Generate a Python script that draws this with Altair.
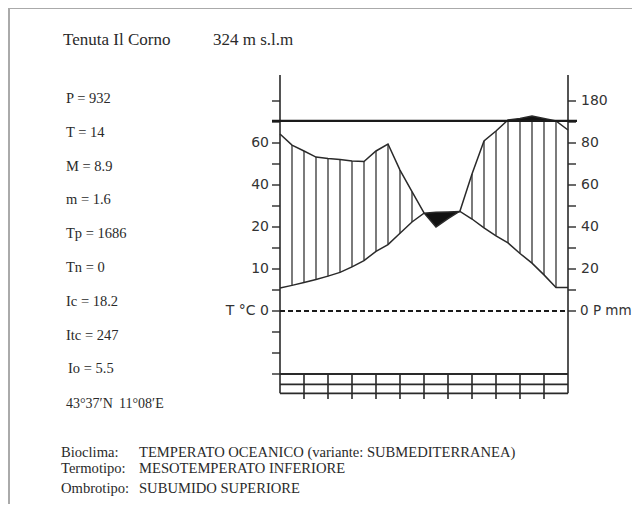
import altair as alt
import pandas as pd

# ---- data ----
# positions along the year, in months (0 = start of January, 12 = end of December)
month_pos = [0, 0.5, 1, 1.5, 2, 2.5, 3, 3.5, 4, 4.5, 5, 5.5, 6, 6.5, 7, 7.5,
             8, 8.5, 9, 9.5, 10, 10.5, 11, 11.5, 12]
# precipitation curve, on the diagram's P scale (mm)
precip = [84.3, 79.0, 76.2, 73.3, 72.6, 72.1, 71.4, 71.2, 76.2, 79.5, 67.1, 56.8,
          46.7, 40.0, 44.0, 47.6, 65.2, 81.0, 85.7, 91.0, 91.7, 92.9, 91.7, 90.5, 86.2]
# temperature curve (deg C), plotted as 2*T on the P scale
temp = [5.5, 6.1, 6.8, 7.5, 8.3, 9.2, 10.5, 12.0, 14.2, 15.8, 18.5, 21.2,
        23.3, 23.5, 23.6, 23.7, 21.9, 19.8, 17.9, 16.2, 13.7, 11.4, 8.6, 5.6, 5.6]

cut_level = 90.5  # horizontal reference line

left_tick_vals = [-30, -20, -10, 0, 10, 20, 30, 40, 50, 60, 70, 80, 90, 100]
right_tick_vals = [0, 10, 20, 30, 40, 50, 60, 70, 80, 90, 100]
left_label_vals = [0, 20, 40, 60, 80]
left_label_txt = ["T °C  0", "10", "20", "40", "60"]
right_label_vals = [20, 40, 60, 80, 100]
right_label_txt = ["20", "40", "60", "80", "180"]
zero_right_txt = "0 P mm"
month_dividers = [1, 2, 3, 4, 5, 6, 7, 8, 9, 10, 11]
box_lines = [-30, -34.9, -39.2]

title_txt = "Tenuta Il Corno"
alt_txt = "324 m s.l.m"
params = ["P = 932", "T = 14", "M = 8.9", "m = 1.6", "Tp = 1686", "Tn = 0",
          "Ic = 18.2", "Itc = 247", "Io = 5.5"]
lat_txt = "43°37′N"
lon_txt = "11°08′E"
bottom_keys = ["Bioclima:", "Termotipo:", "Ombrotipo:"]
bottom_vals = ["TEMPERATO OCEANICO (variante: SUBMEDITERRANEA)",
               "MESOTEMPERATO INFERIORE", "SUBUMIDO SUPERIORE"]

# ---- tables ----
df = pd.DataFrame({"x": month_pos, "p": precip, "t": temp})
df["t2"] = df["t"] * 2

hatch = df[(df["x"] > 0) & (df["x"] < 12) & (df["p"] > df["t2"])].copy()
hatch["y"] = hatch["t2"]
hatch["y2"] = hatch["p"].clip(upper=cut_level)

dry = df[(df["x"] >= 6) & (df["x"] <= 7.5)]
wet_top = df[df["p"] >= cut_level].copy()
wet_top["c"] = cut_level

xs = alt.Scale(domain=[0, 12], range=[272, 560], zero=False, nice=False)
ys = alt.Scale(domain=[0, 100], range=[303, 93], zero=False, nice=False)

INK = "#2a2a2a"
SERIF = "Liberation Serif"
SANS = "DejaVu Sans"


def X(f="x"):
    return alt.X(f"{f}:Q", scale=xs, axis=None)


def Y(f="y"):
    return alt.Y(f"{f}:Q", scale=ys, axis=None)


def rules(frame, width=1.5, color=INK, dash=None):
    kw = dict(strokeWidth=width, color=color)
    if dash:
        kw["strokeDash"] = dash
    return alt.Chart(frame).mark_rule(**kw).encode(
        x=X("x"), x2="x2:Q", y=Y("y"), y2="y2:Q")


layers = []

# hatching (humid period)
layers.append(alt.Chart(hatch).mark_rule(strokeWidth=1.4, color="#444").encode(
    x=X("x"), y=Y("y"), y2="y2:Q"))
# dry period (black)
layers.append(alt.Chart(dry).mark_area(color="#111", interpolate="linear").encode(
    x=X("x"), y=Y("t2"), y2="p:Q"))
# very wet (above reference line)
layers.append(alt.Chart(wet_top).mark_area(color="#111").encode(
    x=X("x"), y=Y("p"), y2="c:Q"))
# curves
layers.append(alt.Chart(df).mark_line(color=INK, strokeWidth=1.5).encode(
    x=X("x"), y=Y("p")))
layers.append(alt.Chart(df).mark_line(color=INK, strokeWidth=1.5).encode(
    x=X("x"), y=Y("t2")))

# axes lines
layers.append(rules(pd.DataFrame({"x": [0, 12], "x2": [0, 12],
                                  "y": [112.4, 112.4], "y2": [-39.2, -39.2]}), 1.6))
# ticks
layers.append(rules(pd.DataFrame({"x": [-1 / 3] * len(left_tick_vals), "x2": [0] * len(left_tick_vals),
                                  "y": left_tick_vals, "y2": left_tick_vals}), 1.4))
layers.append(rules(pd.DataFrame({"x": [12] * len(right_tick_vals), "x2": [12 + 1 / 3] * len(right_tick_vals),
                                  "y": right_tick_vals, "y2": right_tick_vals}), 1.4))
# reference line
layers.append(rules(pd.DataFrame({"x": [-1 / 3], "x2": [12 + 0.375],
                                  "y": [cut_level], "y2": [cut_level]}), 2.2, "#1a1a1a"))
# zero dashed line
layers.append(rules(pd.DataFrame({"x": [0], "x2": [12], "y": [0], "y2": [0]}), 2.2, "#1a1a1a", [5, 3]))
# bottom boxes
layers.append(rules(pd.DataFrame({"x": [0] * 3, "x2": [12] * 3, "y": box_lines, "y2": box_lines}), 1.8))
layers.append(rules(pd.DataFrame({"x": month_dividers, "x2": month_dividers,
                                  "y": [-30] * 11, "y2": [-41.9] * 11}), 1.6))

# axis labels
layers.append(alt.Chart(pd.DataFrame({"y": left_label_vals, "t": left_label_txt})).mark_text(
    align="right", baseline="middle", dx=-11, font=SANS, fontSize=14, color="#333").encode(
    x=alt.datum(0, scale=xs), y=Y("y"), text="t:N"))
layers.append(alt.Chart(pd.DataFrame({"y": right_label_vals, "t": right_label_txt})).mark_text(
    align="left", baseline="middle", dx=13, font=SANS, fontSize=14, color="#333").encode(
    x=alt.datum(12, scale=xs), y=Y("y"), text="t:N"))
layers.append(alt.Chart(pd.DataFrame({"y": [0], "t": [zero_right_txt]})).mark_text(
    align="left", baseline="middle", dx=12, font=SANS, fontSize=13.5, color="#333").encode(
    x=alt.datum(12, scale=xs), y=Y("y"), text="t:N"))


def txt(s, x, y, size=15, font=SERIF, color=INK):
    return alt.Chart(pd.DataFrame({"t": [s]})).mark_text(
        align="left", baseline="middle", font=font, fontSize=size, color=color).encode(
        x=alt.value(x), y=alt.value(y), text="t:N")


layers.append(txt(title_txt, 55, 32, 17))
layers.append(txt(alt_txt, 205, 32, 17))
for i, s in enumerate(params):
    layers.append(txt(s, 58 if i < 8 else 60, 91 + i * 33.8, 14.5))
layers.append(txt(lat_txt, 58, 396, 14))
layers.append(txt(lon_txt, 111, 396, 14))
for i, (k, v) in enumerate(zip(bottom_keys, bottom_vals)):
    yy = [445, 461, 481][i]
    layers.append(txt(k, 53, yy, 14.6))
    layers.append(txt(v, 131, yy, 14.6))

# scan border (top and left edges)
layers.append(alt.Chart(pd.DataFrame({"a": [0]})).mark_rule(color="#aaa", strokeWidth=2).encode(
    x=alt.value(0), x2=alt.value(624), y=alt.value(0)))
layers.append(alt.Chart(pd.DataFrame({"a": [0]})).mark_rule(color="#aaa", strokeWidth=2).encode(
    x=alt.value(1), y=alt.value(0), y2=alt.value(496)))

chart = alt.layer(*layers).properties(
    width=624, height=496, padding=0,
    autosize=alt.AutoSizeParams(type="none"),
).configure_view(stroke=None)

chart.save("out.html", embed_options={"renderer": "svg", "actions": False})
